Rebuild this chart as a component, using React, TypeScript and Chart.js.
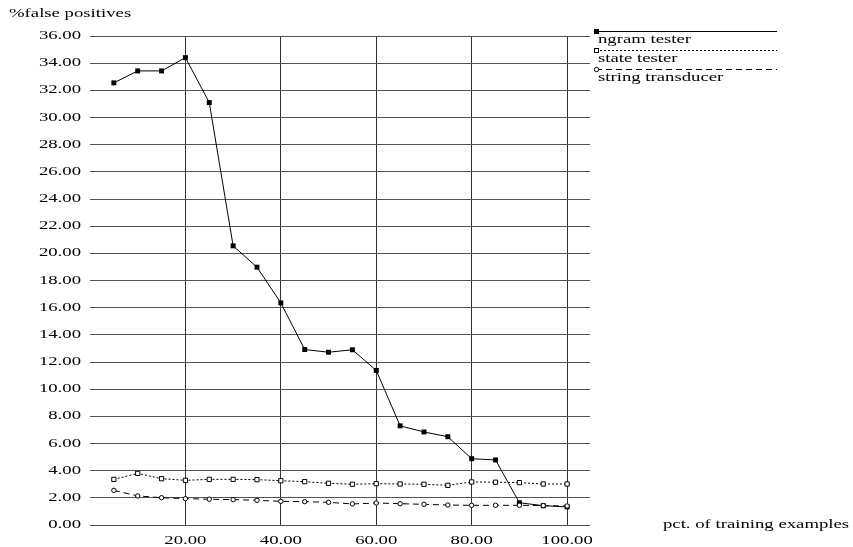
import React, { useEffect, useRef } from "react";
import { Chart, registerables } from "chart.js";

Chart.register(...registerables);

const xValues = [5, 10, 15, 20, 25, 30, 35, 40, 45, 50, 55, 60, 65, 70, 75, 80, 85, 90, 95, 100];
const ngramTester = [32.55, 33.43, 33.43, 34.41, 31.1, 20.55, 18.98, 16.35, 12.92, 12.72, 12.9, 11.38, 7.3, 6.85, 6.5, 4.88, 4.79, 1.64, 1.42, 1.33];
const stateTester = [3.36, 3.8, 3.41, 3.29, 3.36, 3.36, 3.34, 3.26, 3.19, 3.07, 3.0, 3.04, 3.02, 3.0, 2.92, 3.17, 3.15, 3.12, 3.02, 3.02];
const stringTransducer = [2.55, 2.14, 2.01, 1.94, 1.9, 1.87, 1.82, 1.74, 1.72, 1.67, 1.55, 1.62, 1.57, 1.52, 1.47, 1.45, 1.45, 1.45, 1.43, 1.4];
const seriesNames = ["ngram tester", "state tester", "string transducer"];
const yTitle = "%false positives";
const xTitle = "pct. of training examples";

const FONT = "13px 'Liberation Serif', 'Times New Roman', serif";
const SX = 1.44;

function stretchText(ctx: CanvasRenderingContext2D, text: string, x: number, y: number, align: CanvasTextAlign) {
  ctx.save();
  ctx.translate(x, y);
  ctx.scale(SX, 1);
  ctx.textAlign = align;
  ctx.textBaseline = "alphabetic";
  ctx.fillText(text, 0, 0);
  ctx.restore();
}

const textPlugin = {
  id: "stretchedText",
  afterDraw(chart: any) {
    const ctx: CanvasRenderingContext2D = chart.ctx;
    const xs = chart.scales.x;
    const ys = chart.scales.y;
    const area = chart.chartArea;
    ctx.save();
    ctx.font = FONT;
    ctx.fillStyle = "#000";
    // y tick labels
    ys.ticks.forEach((t: any) => {
      const py = ys.getPixelForValue(t.value);
      stretchText(ctx, Number(t.value).toFixed(2), area.left - 9, py + 3, "right");
    });
    // x tick labels
    xs.ticks.forEach((t: any) => {
      if (t.value <= 0) return;
      const px = xs.getPixelForValue(t.value);
      stretchText(ctx, Number(t.value).toFixed(2), px, area.bottom + 19, "center");
    });
    // titles
    stretchText(ctx, yTitle, 9, 17, "left");
    stretchText(ctx, xTitle, 663, area.bottom + 3, "left");

    // legend
    const lx0 = area.right + 6;
    const lx1 = area.right + 187;
    const entries = [
      { y: 31, dash: [] as number[], marker: "fsq" },
      { y: 50, dash: [2, 2], marker: "osq" },
      { y: 69, dash: [6, 4], marker: "ocirc" },
    ];
    entries.forEach((e, i) => {
      ctx.save();
      ctx.strokeStyle = "#000";
      ctx.lineWidth = 1;
      ctx.setLineDash(e.dash);
      ctx.beginPath();
      ctx.moveTo(lx0, e.y + 0.5);
      ctx.lineTo(lx1, e.y + 0.5);
      ctx.stroke();
      ctx.setLineDash([]);
      if (e.marker === "fsq") {
        ctx.fillStyle = "#000";
        ctx.fillRect(lx0 - 2, e.y - 2, 5, 5);
      } else if (e.marker === "osq") {
        ctx.fillStyle = "#fff";
        ctx.fillRect(lx0 - 2, e.y - 2, 5, 5);
        ctx.strokeRect(lx0 - 1.5, e.y - 1.5, 4, 4);
      } else {
        ctx.fillStyle = "#fff";
        ctx.beginPath();
        ctx.arc(lx0 + 0.5, e.y + 0.5, 2.2, 0, Math.PI * 2);
        ctx.fill();
        ctx.stroke();
      }
      ctx.restore();
      ctx.font = FONT;
      ctx.fillStyle = "#000";
      stretchText(ctx, seriesNames[i], lx0 + 2, e.y + 12, "left");
    });
    ctx.restore();
  },
};

export default function App() {
  const ref = useRef<HTMLCanvasElement | null>(null);
  useEffect(() => {
    if (!ref.current) return;
    const chart = new Chart(ref.current, {
      type: "line",
      data: {
        datasets: [
          {
            label: seriesNames[2],
            data: xValues.map((x, i) => ({ x, y: stringTransducer[i] })),
            borderColor: "#000",
            borderWidth: 1,
            borderDash: [6, 4],
            pointStyle: "circle",
            pointRadius: 2.2,
            pointBackgroundColor: "#fff",
            pointBorderColor: "#000",
            pointBorderWidth: 1,
            tension: 0,
          },
          {
            label: seriesNames[1],
            data: xValues.map((x, i) => ({ x, y: stateTester[i] })),
            borderColor: "#000",
            borderWidth: 1,
            borderDash: [2, 2],
            pointStyle: "rect",
            pointRadius: 3,
            pointBackgroundColor: "#fff",
            pointBorderColor: "#000",
            pointBorderWidth: 1,
            tension: 0,
          },
          {
            label: seriesNames[0],
            data: xValues.map((x, i) => ({ x, y: ngramTester[i] })),
            borderColor: "#000",
            borderWidth: 1,
            pointStyle: "rect",
            pointRadius: 3.5,
            pointBackgroundColor: "#000",
            pointBorderColor: "#000",
            pointBorderWidth: 0,
            tension: 0,
          },
        ],
      },
      options: {
        animation: false,
        responsive: false,
        events: [],
        layout: { padding: { left: 0, right: 263, top: 36, bottom: 0 } },
        plugins: { legend: { display: false }, tooltip: { enabled: false }, title: { display: false } },
        scales: {
          x: {
            type: "linear",
            min: 0,
            max: 104.8,
            border: { display: false },
            ticks: { display: false, stepSize: 20, includeBounds: false },
            grid: {
              drawTicks: false,
              color: (c: any) => (c.tick && c.tick.value > 0 ? "#333" : "rgba(0,0,0,0)"),
              lineWidth: 1,
            },
            afterFit: (s: any) => {
              s.height = 22;
            },
          },
          y: {
            type: "linear",
            min: 0,
            max: 36,
            border: { display: false },
            ticks: { display: false, stepSize: 2 },
            grid: { drawTicks: false, color: "#555", lineWidth: 1 },
            afterFit: (s: any) => {
              s.width = 90;
            },
          },
        },
      },
      plugins: [textPlugin],
    });
    return () => chart.destroy();
  }, []);
  return (
    <div style={{ position: "absolute", left: 0, top: 0, width: 853, height: 547, background: "#fff" }}>
      <canvas ref={ref} width={853} height={547} style={{ display: "block" }} />
    </div>
  );
}
